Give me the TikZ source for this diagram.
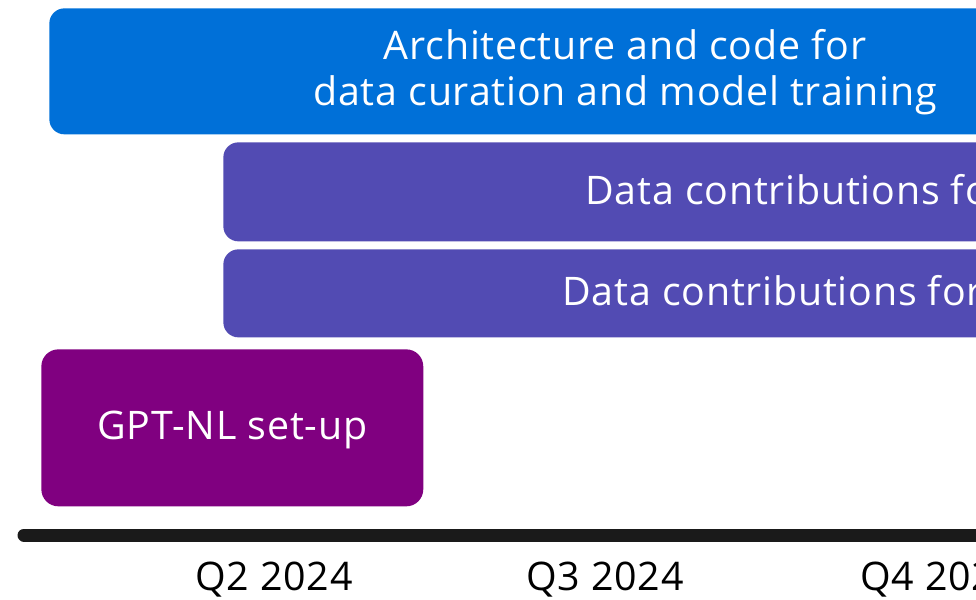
\documentclass[tikz,border=0pt]{standalone}
\usepackage{fontspec}
\setmainfont[LetterSpace=2]{Open Sans}
\usepackage{tikz}
\usetikzlibrary{positioning}
\definecolor{ingblue}{RGB}{0,112,216}
\definecolor{ingviolet}{RGB}{82,75,179}
\definecolor{ingplum}{RGB}{128,0,128}
\definecolor{axisgrey}{RGB}{26,26,26}

\begin{document}
\begin{tikzpicture}[x=0.02cm, y=-0.02cm,
    bar/.style={rectangle, rounded corners=0.3cm, draw=none, inner sep=0pt, anchor=north west},
    bar text/.style={text=white, font=\fontsize{22.4}{26.5}\selectfont, align=center, inner sep=0pt},
    quarter/.style={text=black, font=\fontsize{22.4}{26.5}\selectfont, inner sep=0pt}]
    \useasboundingbox (0,0) rectangle (976,599);
    \clip (0,0) rectangle (976,599);

    \node[bar, fill=ingblue, minimum width=24cm, minimum height=2.52cm] (arch) at (49,8) {};
    \node[bar, fill=ingviolet, minimum width=24cm, minimum height=1.98cm] (data1) at (223,142) {};
    \node[bar, fill=ingviolet, minimum width=24cm, minimum height=1.76cm] (data2) at (223,249) {};
    \node[bar, fill=ingplum, rounded corners=0.34cm, minimum width=7.64cm, minimum height=3.14cm] (setup) at (41,349) {};

    \node[bar text] (archtext) at (625,72) {Architecture and code for\\data curation and model training};
    \node[bar text, anchor=west] (data1text) at (585,190) {Data contributions for};
    \node[bar text, anchor=west] (data2text) at (562,291) {Data contributions for};
    \node[bar text] (setuptext) at ([yshift=-0.04cm]setup.center) {GPT-NL set-up};

    \coordinate (axisstart) at (24,535);
    \coordinate (axisend) at (1100,535);
    \draw[axisgrey, line width=0.26cm, line cap=round] (axisstart) -- (axisend);

    \node[quarter] (q2) at (274,580) {Q2 2024};
    \node[quarter] (q3) at (605,580) {Q3 2024};
    \node[quarter, anchor=west] (q4) at (860,580) {Q4 2024};
\end{tikzpicture}
\end{document}
